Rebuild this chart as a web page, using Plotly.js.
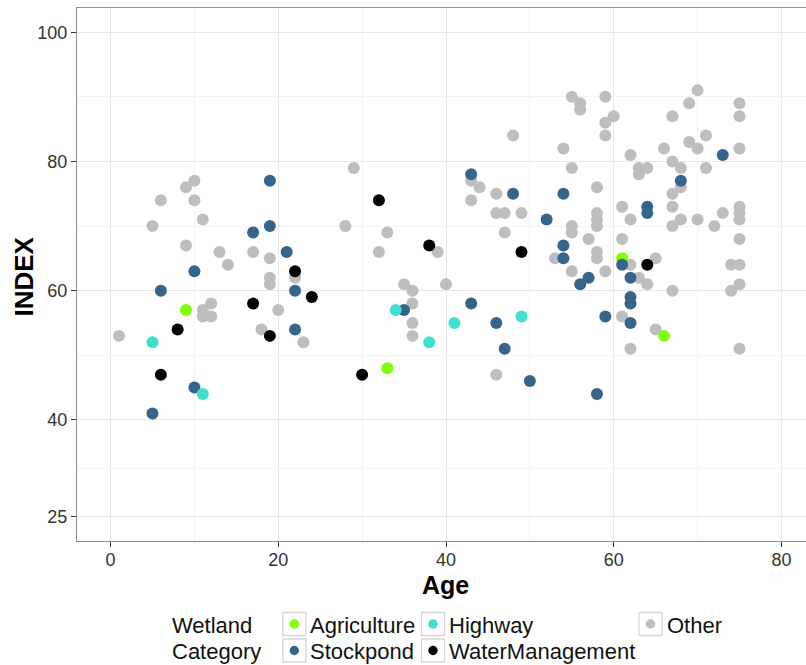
<!DOCTYPE html>
<html>
<head>
<meta charset="utf-8">
<script src="https://cdn.plot.ly/plotly-3.0.1.min.js"></script>
<style>
  html, body { margin: 0; padding: 0; background: #ffffff; overflow: hidden; }
  #chart { width: 815px; height: 665px; }
</style>
</head>
<body>
<div id="chart"></div>
<script>
// Wetland index against wetland age, one series per wetland category.
const categories = ["Agriculture", "Highway", "Other", "Stockpond", "WaterManagement"];
const categoryColors = ["#7FFF00", "#40E0D0", "#BEBEBE", "#36648B", "#000000"];

const ageAgriculture = [9, 33, 61, 66];
const indexAgriculture = [57, 48, 65, 53];

const ageHighway = [5, 11, 34, 38, 41, 49];
const indexHighway = [52, 44, 57, 52, 55, 56];

const ageWaterManagement = [22, 24, 17, 8, 19, 6, 32, 38, 30, 49, 64];
const indexWaterManagement = [63, 59, 58, 54, 53, 47, 74, 67, 47, 66, 64];

const ageStockpond = [19, 19, 17, 21, 10, 6, 22, 22, 10, 5, 43, 48, 54, 52, 54, 54, 35, 43,
  46, 47, 50, 57, 56, 64, 64, 61, 62, 73, 68, 62, 62, 59, 62, 58];
const indexStockpond = [77, 70, 69, 66, 63, 60, 60, 54, 45, 41, 78, 75, 75, 71, 67, 65, 57, 58,
  55, 51, 46, 62, 61, 73, 72, 64, 62, 81, 77, 59, 58, 56, 55, 44];

const ageOther = [10, 9, 6, 10, 11, 5, 9, 13, 14, 17, 19, 19, 22, 19, 11, 12, 11, 12, 20, 1, 18, 23,
  29, 28, 33, 32, 39, 35, 36, 40, 36, 36, 36, 46, 48, 43, 44, 43, 46, 46, 47, 49, 47, 53,
  54, 55, 56, 56, 59, 60, 59, 59, 55, 58, 55, 55, 58, 58, 58, 57, 58, 58, 55, 59, 61, 62,
  63, 64, 63, 62, 61, 62, 65, 63, 66, 67, 69, 70, 71, 69, 70, 67, 68, 71, 68, 67, 67, 68,
  67, 70, 72, 73, 75, 75, 75, 75, 75, 75, 75, 74, 75, 64, 67, 74, 75, 61, 65, 62, 75];
const indexOther = [77, 76, 74, 74, 71, 70, 67, 66, 64, 66, 65, 62, 62, 61, 57, 58, 56, 56, 57, 53, 54, 52,
  79, 70, 69, 66, 66, 61, 60, 61, 58, 55, 53, 47, 84, 77, 76, 74, 75, 72, 72, 72, 69, 65,
  82, 90, 89, 88, 90, 87, 86, 84, 79, 76, 70, 69, 72, 71, 70, 68, 66, 65, 63, 63, 73, 81,
  79, 79, 78, 71, 68, 64, 65, 62, 82, 87, 89, 91, 84, 83, 82, 80, 79, 79, 76, 75, 73, 71,
  70, 71, 70, 72, 89, 87, 82, 73, 72, 71, 68, 64, 64, 61, 60, 60, 61, 56, 54, 51, 51];

const xTickVals = [0, 20, 40, 60, 80];
const xMinorVals = [10, 30, 50, 70];
const yTickVals = [25, 40, 60, 80, 100];
const yMinorVals = [32.5, 50, 70, 90];

const seriesAges = {
  Agriculture: ageAgriculture, Highway: ageHighway, Other: ageOther,
  Stockpond: ageStockpond, WaterManagement: ageWaterManagement
};
const seriesIndex = {
  Agriculture: indexAgriculture, Highway: indexHighway, Other: indexOther,
  Stockpond: indexStockpond, WaterManagement: indexWaterManagement
};

// drawing order (later traces sit on top)
const drawOrder = ["Other", "Agriculture", "Stockpond", "Highway", "WaterManagement"];

const traces = drawOrder.map(name => ({
  type: "scatter",
  mode: "markers",
  name: name,
  x: seriesAges[name],
  y: seriesIndex[name],
  marker: { size: 12, color: categoryColors[categories.indexOf(name)], line: { width: 0 } },
  hoverinfo: "x+y+name"
}));

// plot-area geometry in pixels
const W = 815, H = 665;
const M = { l: 77, r: 0, t: 8, b: 124 };
const plotW = W - M.l - M.r, plotH = H - M.t - M.b;
const px = x => (x - M.l) / plotW;
const py = y => (H - M.b - y) / plotH;

const FONT = "Liberation Sans, Arial, sans-serif";

// legend: key boxes, dots and labels laid out in a 3 x 2 grid
const legendCols = [294.3, 433, 650.5];
const legendRows = [624, 650.5];
const legendSlots = {
  Agriculture: [0, 0], Highway: [1, 0], Other: [2, 0],
  Stockpond: [0, 1], WaterManagement: [1, 1]
};
const shapes = [];
const annotations = [];
categories.forEach((name, i) => {
  const cx = legendCols[legendSlots[name][0]];
  const cy = legendRows[legendSlots[name][1]];
  shapes.push({
    type: "rect", xref: "paper", yref: "paper",
    x0: px(cx - 11.5), x1: px(cx + 11.5), y0: py(cy + 11.5), y1: py(cy - 11.5),
    line: { color: "#d6d6d6", width: 1.3 }, fillcolor: "#ffffff", layer: "above"
  });
  shapes.push({
    type: "circle", xref: "paper", yref: "paper",
    x0: px(cx - 4.7), x1: px(cx + 4.7), y0: py(cy + 4.7), y1: py(cy - 4.7),
    line: { width: 0 }, fillcolor: categoryColors[i], layer: "above"
  });
  annotations.push({
    text: name, xref: "paper", yref: "paper", x: px(cx + 14), y: py(cy + 1),
    xanchor: "left", yanchor: "middle", showarrow: false,
    font: { family: FONT, size: 22, color: "#111111" }
  });
});
annotations.push({
  text: "Wetland", xref: "paper", yref: "paper", x: px(170), y: py(legendRows[0] + 1),
  xanchor: "left", yanchor: "middle", showarrow: false,
  font: { family: FONT, size: 22, color: "#111111" }
});
annotations.push({
  text: "Category", xref: "paper", yref: "paper", x: px(170), y: py(legendRows[1] + 1),
  xanchor: "left", yanchor: "middle", showarrow: false,
  font: { family: FONT, size: 22, color: "#111111" }
});

// axis titles
annotations.push({
  text: "<b>Age</b>", xref: "paper", yref: "paper", x: px(445), y: py(585),
  xanchor: "center", yanchor: "middle", showarrow: false, borderpad: 0,
  font: { family: FONT, size: 25, color: "#000000" }
});
annotations.push({
  text: "<b>INDEX</b>", xref: "paper", yref: "paper", x: px(23.5), y: py(276),
  xanchor: "center", yanchor: "middle", showarrow: false, textangle: -90, borderpad: 0,
  font: { family: FONT, size: 26, color: "#000000" }
});

const axisCommon = {
  showline: true, mirror: true, linecolor: "#8c8c8c", linewidth: 1.4,
  ticks: "outside", ticklen: 5, tickwidth: 1.1, tickcolor: "#333333",
  tickfont: { family: FONT, size: 18, color: "#333333" },
  showgrid: true, gridcolor: "#e8e8e8", gridwidth: 1.2,
  zeroline: false, tickmode: "array"
};

const layout = {
  width: W, height: H,
  margin: M,
  paper_bgcolor: "#ffffff", plot_bgcolor: "#ffffff",
  font: { family: FONT },
  showlegend: false,
  xaxis: Object.assign({}, axisCommon, {
    range: [-4, 84], tickvals: xTickVals, ticktext: xTickVals.map(String),
    ticklabelstandoff: -3,
    minor: { tickvals: xMinorVals, showgrid: true, gridcolor: "#f4f4f4", gridwidth: 1, ticks: "" }
  }),
  yaxis: Object.assign({}, axisCommon, {
    range: [21.25, 103.75], tickvals: yTickVals, ticktext: yTickVals.map(String),
    minor: { tickvals: yMinorVals, showgrid: true, gridcolor: "#f4f4f4", gridwidth: 1, ticks: "" }
  }),
  shapes: shapes,
  annotations: annotations
};

Plotly.newPlot("chart", traces, layout, { displayModeBar: false, responsive: false });
</script>
</body>
</html>
